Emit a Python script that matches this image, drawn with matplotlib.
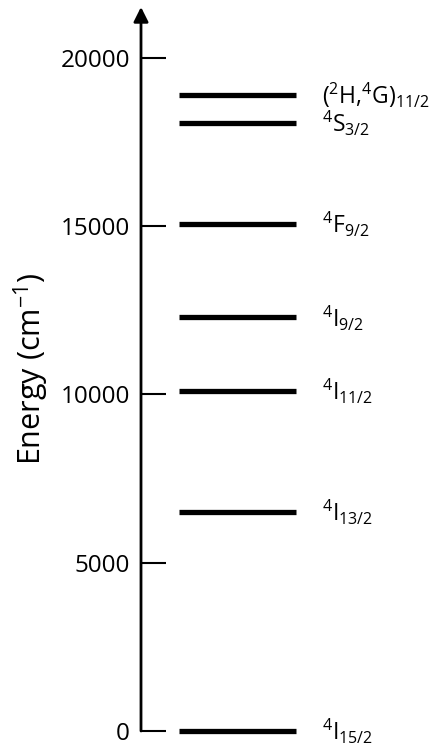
import matplotlib
matplotlib.use("Agg")
import matplotlib.pyplot as plt

plt.rcParams['font.family'] = ['Open Sans', 'DejaVu Sans']
plt.rcParams['mathtext.fontset'] = 'custom'
plt.rcParams['mathtext.rm'] = 'Open Sans'

# energy levels (cm^-1) and their term symbols
levels = [0, 6500, 10100, 12280, 15060, 18060, 18900]
names = [r'$\mathregular{^4I_{15/2}}$',
         r'$\mathregular{^4I_{13/2}}$',
         r'$\mathregular{^4I_{11/2}}$',
         r'$\mathregular{^4I_{9/2}}$',
         r'$\mathregular{^4F_{9/2}}$',
         r'$\mathregular{^4S_{3/2}}$',
         r'$\mathregular{(^2H{,}^4G)_{11/2}}$']
yticks = [0, 5000, 10000, 15000, 20000]
ytop = 21500

fig = plt.figure(figsize=(4.37, 7.51), dpi=100)
ax = fig.add_axes([141/437, 20/751, 296/437, 724/751])

for e, name in zip(levels, names):
    ax.hlines(e, 0.128, 0.524, color='black', lw=3.8, clip_on=False)
    ax.annotate(name, xy=(0.61, e), xytext=(0, -6.5), textcoords='offset points',
                ha='left', va='baseline', fontsize=16.5)

ax.set_xlim(0, 1)
ax.set_ylim(0, ytop)
ax.set_xticks([])
ax.set_yticks(yticks)
ax.tick_params(axis='y', direction='in', length=18, width=1.5, pad=8, labelsize=17.5)

for s in ax.spines.values():
    s.set_visible(False)

# vertical axis with arrow head
ax.annotate('', xy=(0, 1), xytext=(0, 0), xycoords='axes fraction',
            arrowprops=dict(arrowstyle='-|>', lw=2, color='black',
                            mutation_scale=22, shrinkA=0, shrinkB=0))

ax.set_ylabel(r'Energy (cm$\mathregular{^{-1}}$)', fontsize=22)
ax.yaxis.set_label_coords(-0.305, 0.5)

fig.savefig('out.png', dpi=100)
